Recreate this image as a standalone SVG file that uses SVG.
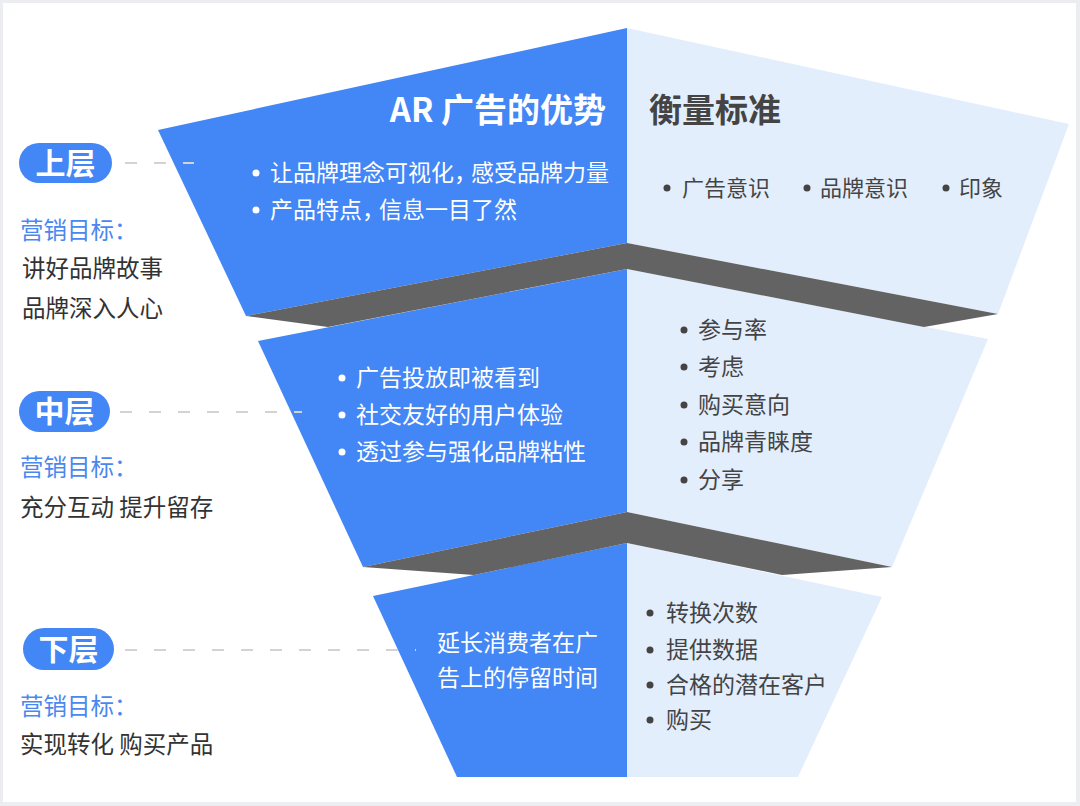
<svg xmlns="http://www.w3.org/2000/svg" width="1080" height="806" viewBox="0 0 1080 806">
<style>
.blue{fill:#4386F5}
.light{fill:#E3EEFD}
.dark{fill:#636363}
.t{font-family:"Noto Sans CJK SC","Noto Sans",sans-serif;font-size:23px}
.s{font-size:22px}
.lab{font-family:"Noto Sans CJK SC","Noto Sans",sans-serif;font-size:23.5px}
.w{fill:#ffffff}
.g{fill:#444444}
.k{fill:#333333}
.lb{fill:#4A88F0}
.h{font-family:"Noto Sans CJK SC","Noto Sans",sans-serif;font-size:33px;font-weight:bold}
.pill{fill:#4386F5}
.pt{font-family:"Noto Sans CJK SC","Noto Sans",sans-serif;font-size:30px;font-weight:bold;fill:#ffffff;text-anchor:middle}
.dash{stroke:#D3D3D3;stroke-width:2;stroke-dasharray:12 17;fill:none}
</style>
<rect x="0" y="0" width="1080" height="806" fill="#EBEDF0"/>
<rect x="3" y="3" width="1073" height="799" fill="#ffffff"/>

<g id="tier-middle">
<polygon class="blue" points="258,341 627,269 627,512 363,567"/>
<polygon class="light" points="627,269 988,339 892,567 627,512"/>
</g>
<g id="tier-bottom">
<polygon class="blue" points="373,596 627,543 627,777 457,777"/>
<polygon class="light" points="627,543 882,597 798,777 627,777"/>
</g>
<g id="tier-top">
<polygon class="blue" points="158,130 627,28 627,243 246,316"/>
<polygon class="light" points="627,28 1069,124 998,314 627,243"/>
</g>
<g id="folds">
<polygon class="dark" points="246,316 627,243 998,314 924,327 627,269 328,327"/>
<polygon class="dark" points="363,567 627,512 892,567 782,575 627,543 474,575"/>
</g>

<g id="top-content">
<text class="h w" x="606" y="122" text-anchor="end">AR 广告的优势</text>
<text class="h g" x="649" y="122">衡量标准</text>
<circle class="w" cx="256" cy="173" r="3.5"/>
<text class="t w" x="270" y="181">让品牌理念可视化，<tspan dx="-6">感受品牌力量</tspan></text>
<circle class="w" cx="256" cy="210" r="3.5"/>
<text class="t w" x="270" y="218">产品特点，<tspan dx="-6">信息一目了然</tspan></text>
<circle class="g" cx="667" cy="188" r="3.5"/>
<text class="t s g" x="682" y="196">广告意识</text>
<circle class="g" cx="807" cy="188" r="3.5"/>
<text class="t s g" x="820" y="196">品牌意识</text>
<circle class="g" cx="946" cy="188" r="3.5"/>
<text class="t s g" x="959" y="196">印象</text>
</g>

<g id="middle-content">
<circle class="w" cx="342" cy="378" r="3.5"/>
<text class="t w" x="356" y="386">广告投放即被看到</text>
<circle class="w" cx="342" cy="415" r="3.5"/>
<text class="t w" x="356" y="423">社交友好的用户体验</text>
<circle class="w" cx="342" cy="452" r="3.5"/>
<text class="t w" x="356" y="460">透过参与强化品牌粘性</text>
<circle class="g" cx="684" cy="330" r="3.5"/>
<text class="t g" x="698" y="338">参与率</text>
<circle class="g" cx="684" cy="367" r="3.5"/>
<text class="t g" x="698" y="375">考虑</text>
<circle class="g" cx="684" cy="405" r="3.5"/>
<text class="t g" x="698" y="413">购买意向</text>
<circle class="g" cx="684" cy="442" r="3.5"/>
<text class="t g" x="698" y="450">品牌青睐度</text>
<circle class="g" cx="684" cy="480" r="3.5"/>
<text class="t g" x="698" y="488">分享</text>
</g>

<g id="bottom-content">
<text class="t w" x="437" y="651">延长消费者在广</text>
<text class="t w" x="437" y="686">告上的停留时间</text>
<circle class="g" cx="650" cy="613" r="3.5"/>
<text class="t g" x="666" y="621">转换次数</text>
<circle class="g" cx="650" cy="650" r="3.5"/>
<text class="t g" x="666" y="658">提供数据</text>
<circle class="g" cx="650" cy="685" r="3.5"/>
<text class="t g" x="666" y="693">合格的潜在客户</text>
<circle class="g" cx="650" cy="720" r="3.5"/>
<text class="t g" x="666" y="728">购买</text>
</g>

<g id="connectors">
<line class="dash" x1="125" y1="163" x2="194" y2="163"/>
<line class="dash" x1="120" y1="412" x2="302" y2="412"/>
<line class="dash" x1="125" y1="650" x2="416" y2="650"/>
</g>

<g id="label-top">
<rect class="pill" x="19" y="143" width="93" height="40" rx="20"/>
<text class="pt" x="65.5" y="174">上层</text>
<text class="lab lb" x="20" y="239">营销目标：</text>
<text class="lab k" x="22" y="277">讲好品牌故事</text>
<text class="lab k" x="22" y="317">品牌深入人心</text>
</g>
<g id="label-middle">
<rect class="pill" x="19" y="391" width="91" height="41" rx="20.5"/>
<text class="pt" x="64.5" y="422">中层</text>
<text class="lab lb" x="20" y="476">营销目标：</text>
<text class="lab k" x="20" y="516">充分互动 提升留存</text>
</g>
<g id="label-bottom">
<rect class="pill" x="23" y="628" width="91" height="42" rx="21"/>
<text class="pt" x="68.5" y="660">下层</text>
<text class="lab lb" x="20" y="715">营销目标：</text>
<text class="lab k" x="20" y="753">实现转化 购买产品</text>
</g>
</svg>
